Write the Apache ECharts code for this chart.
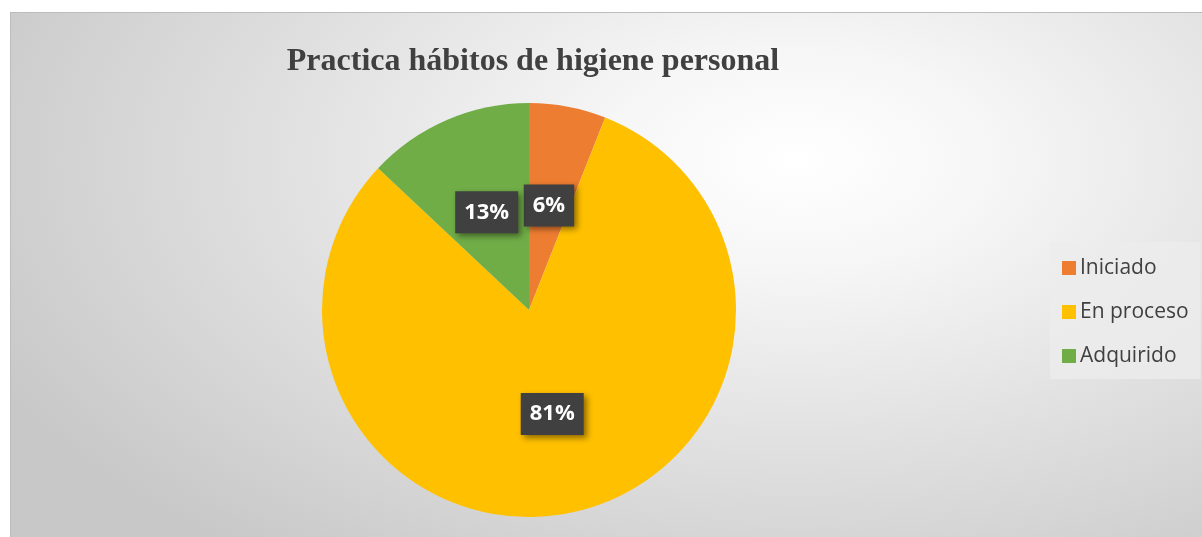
<!DOCTYPE html>
<html>
<head>
<meta charset="utf-8">
<script src="https://cdn.jsdelivr.net/npm/echarts@6/dist/echarts.min.js"></script>
<style>
html,body{margin:0;padding:0;background:#fff;width:1202px;height:537px;overflow:hidden;}
#frame{position:absolute;left:10px;top:12px;width:1192px;height:525px;
  background:radial-gradient(ellipse 75% 95% at 66% 28%, #ffffff 0%, #f6f6f6 22%, #e2e2e2 55%, #c8c8c8 100%);
  border-top:1px solid #bcbcbc;border-left:1px solid #bcbcbc;box-sizing:border-box;}
#chart{width:100%;height:100%;}
</style>
</head>
<body>
<div id="frame"><div id="chart"></div></div>
<script>
const titleText = 'Practica hábitos de higiene personal';
const categories = ['Iniciado', 'En proceso', 'Adquirido'];
const values = [6, 81, 13];
const colors = ['#ED7D31', '#FFC000', '#70AD47'];

const chart = echarts.init(document.getElementById('chart'), null, {renderer: 'canvas'});
chart.setOption({
  animation: false,
  title: {
    text: titleText,
    left: 517,
    top: 28,
    textAlign: 'center',
    textStyle: {fontFamily: 'Liberation Serif', fontWeight: 'bold', fontSize: 32, color: '#404040'}
  },
  legend: {
    orient: 'vertical',
    left: 1039,
    top: 229,
    padding: [12, 12, 9, 12],
    itemGap: 16,
    itemWidth: 14,
    itemHeight: 14,
    icon: 'rect',
    backgroundColor: 'rgba(236,236,236,0.8)',
    textStyle: {fontFamily: 'Open Sans', fontSize: 21, lineHeight: 28, color: '#404040', padding: [0, 0, 0, -1]},
    data: categories
  },
  series: [{
    type: 'pie',
    center: [518, 297],
    radius: 207,
    startAngle: 90,
    clockwise: true,
    data: categories.map((c, i) => ({name: c, value: values[i], itemStyle: {color: colors[i]}})),
    label: {
      show: true,
      position: 'inside',
      formatter: p => p.value + '%',
      fontFamily: 'Open Sans',
      fontWeight: 'bold',
      fontSize: 22,
      color: '#ffffff',
      backgroundColor: '#404040',
      padding: [11, 9, 9, 9],
      shadowColor: 'rgba(0,0,0,0.45)',
      shadowBlur: 6,
      shadowOffsetX: 3,
      shadowOffsetY: 3
    },
    labelLine: {show: false},
    emphasis: {disabled: true}
  }]
});
</script>
</body>
</html>
